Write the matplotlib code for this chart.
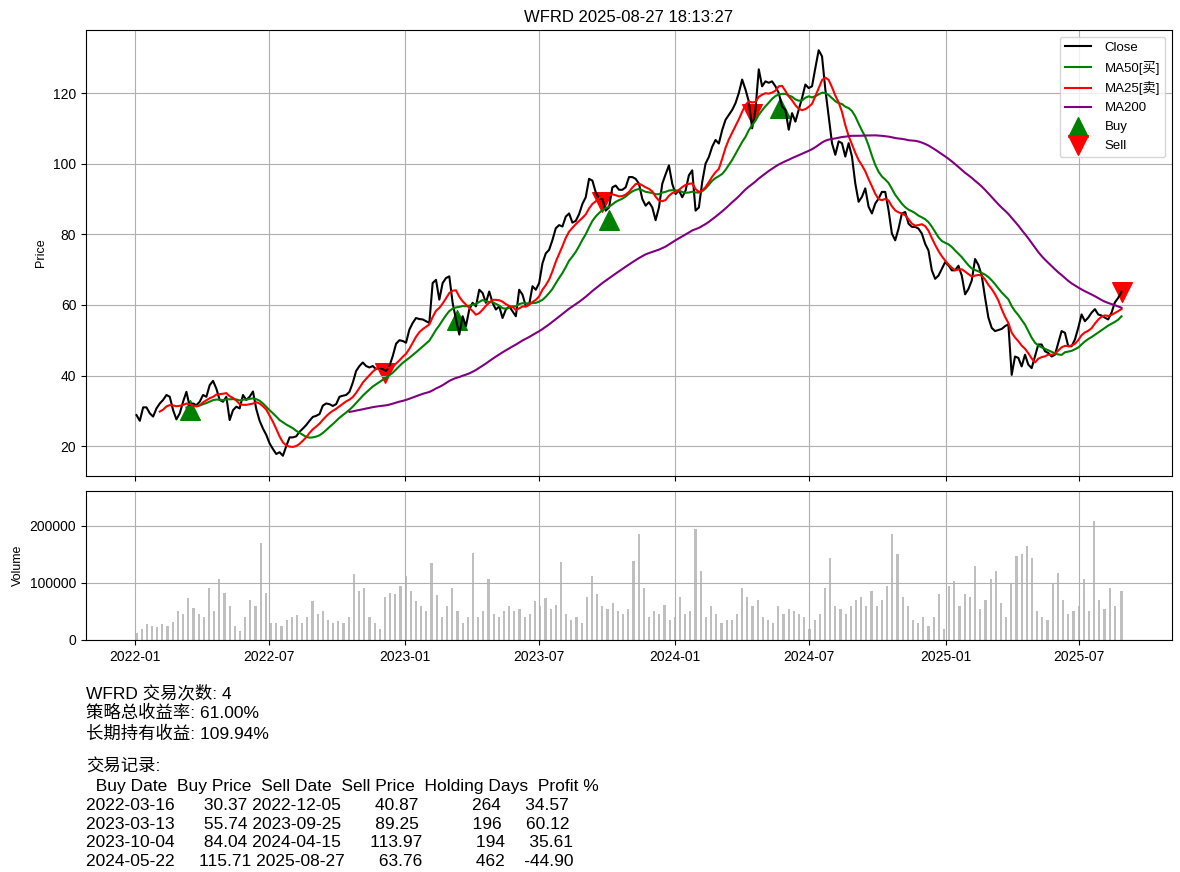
import numpy as np
import pandas as pd
import matplotlib
matplotlib.use('Agg')
import matplotlib.pyplot as plt
import matplotlib.dates as mdates

plt.rcParams['font.family'] = ['Liberation Sans', 'Noto Sans CJK SC']
plt.rcParams['axes.unicode_minus'] = False

ticker = 'WFRD'
stamp = '2025-08-27 18:13:27'

close = [
    28.8, 27.2, 31.0, 31.0, 29.3, 28.4, 30.7, 32.1, 33.1, 34.5,
    34.0, 30.2, 27.6, 29.3, 32.6, 35.4, 31.2, 32.1, 31.6, 32.6,
    34.5, 34.0, 37.3, 38.5, 36.3, 33.1, 32.6, 34.0, 27.4, 30.2,
    31.2, 30.7, 34.5, 33.1, 34.0, 35.5, 30.5, 27.2, 25.0, 23.2,
    20.8, 19.2, 17.8, 18.3, 17.3, 20.0, 22.5, 22.5, 22.8, 24.1,
    25.0, 26.0, 27.2, 28.3, 28.6, 29.1, 31.5, 32.1, 31.9, 31.4,
    31.9, 34.0, 34.3, 34.5, 35.4, 38.0, 41.3, 42.7, 43.7, 42.7,
    42.3, 42.7, 41.8, 42.3, 41.8, 41.3, 42.7, 45.5, 49.0, 50.0,
    49.8, 49.3, 53.0, 54.9, 56.3, 56.0, 55.9, 55.4, 54.9, 66.2,
    67.1, 61.5, 66.2, 67.6, 68.1, 60.6, 55.9, 51.6, 56.8, 54.0,
    58.7, 60.6, 59.6, 64.3, 63.4, 60.6, 63.8, 60.6, 58.7, 59.6,
    56.3, 58.7, 59.6, 58.2, 56.8, 64.3, 62.9, 59.6, 60.1, 65.3,
    64.3, 66.2, 71.8, 74.6, 75.6, 78.4, 81.7, 82.6, 82.2, 85.0,
    85.9, 83.3, 83.8, 85.7, 88.6, 90.5, 95.7, 95.2, 91.9, 90.0,
    90.0, 86.7, 87.6, 93.3, 93.8, 92.6, 92.6, 93.3, 96.2, 96.2,
    95.7, 94.3, 90.0, 88.1, 89.1, 87.6, 84.0, 87.6, 94.3, 97.0,
    99.5, 94.3, 91.4, 92.4, 90.5, 92.4, 96.7, 98.1, 86.7, 87.6,
    94.8, 100.0, 101.9, 104.8, 106.7, 105.7, 109.5, 112.4, 113.8, 115.2,
    117.1, 120.0, 123.8, 121.0, 117.6, 110.0, 115.2, 126.7, 121.9, 123.3,
    122.9, 123.3, 121.9, 120.0, 116.2, 115.2, 109.6, 114.3, 111.9, 115.3,
    118.6, 122.4, 121.4, 121.9, 127.1, 132.1, 130.4, 121.0, 113.4, 105.8,
    102.5, 106.3, 105.8, 102.0, 105.8, 102.0, 94.4, 89.2, 90.6, 93.0,
    87.8, 85.9, 88.7, 90.1, 92.0, 92.0, 86.8, 80.2, 78.3, 81.6,
    85.9, 86.3, 83.0, 82.1, 82.1, 81.6, 80.2, 77.3, 75.4, 69.8,
    67.4, 68.3, 70.2, 72.1, 71.2, 69.8, 69.8, 71.1, 68.3, 63.0,
    64.5, 66.9, 73.0, 71.3, 68.3, 62.1, 56.4, 53.5, 52.6, 52.9,
    53.2, 54.0, 54.5, 40.2, 45.4, 45.0, 42.6, 45.9, 43.1, 42.1,
    45.4, 48.8, 48.8, 46.9, 46.4, 45.4, 45.9, 49.2, 52.6, 52.1,
    48.3, 48.3, 50.2, 53.5, 57.3, 55.4, 56.4, 57.8, 58.8, 57.3,
    57.0, 56.4, 55.9, 57.8, 60.7, 62.0, 63.76,
]
close_dates = pd.date_range('2022-01-03', '2025-08-27', periods=len(close))

# volume in thousands of shares, one bar per week plus the last day
volume_k = [
    12, 20, 28, 25, 22, 28, 25, 32, 51, 45,
    73, 56, 45, 40, 91, 50, 106, 82, 60, 25,
    15, 40, 70, 60, 169, 82, 30, 30, 25, 35,
    40, 44, 30, 40, 68, 45, 50, 35, 30, 34,
    30, 40, 115, 85, 91, 40, 30, 20, 76, 82,
    80, 94, 112, 85, 68, 60, 50, 135, 79, 40,
    60, 91, 50, 30, 40, 153, 40, 50, 106, 45,
    40, 50, 59, 50, 55, 40, 45, 68, 60, 73,
    55, 62, 137, 45, 35, 40, 30, 76, 112, 80,
    60, 55, 65, 50, 45, 55, 139, 185, 91, 40,
    50, 45, 62, 35, 40, 76, 45, 50, 194, 120,
    40, 60, 45, 30, 35, 35, 45, 91, 75, 60,
    70, 40, 35, 30, 60, 45, 55, 50, 45, 40,
    20, 35, 45, 91, 144, 60, 55, 45, 60, 70,
    75, 60, 85, 60, 70, 95, 185, 150, 75, 60,
    35, 30, 40, 25, 40, 80, 20, 94, 103, 60,
    80, 75, 129, 55, 70, 106, 120, 65, 40, 100,
    147, 150, 165, 144, 50, 40, 35, 100, 118, 70,
    45, 50, 60, 106, 50, 209, 70, 55, 91, 60,
    85,
]
vol_dates = pd.date_range('2022-01-03', periods=190, freq='7D').append(pd.DatetimeIndex(['2025-08-27']))

buy_dates = ['2022-03-16', '2023-03-13', '2023-10-04', '2024-05-22']
buy_prices = [30.37, 55.74, 84.04, 115.71]
sell_dates = ['2022-12-05', '2023-09-25', '2024-04-15', '2025-08-27']
sell_prices = [40.87, 89.25, 113.97, 63.76]
holding_days = [264, 196, 194, 462]
profit_pct = [34.57, 60.12, 35.61, -44.90]

n_trades = 4
strategy_return = 61.00
hold_return = 109.94

df = pd.DataFrame({'Close': close}, index=close_dates)
# rows are ~4.5 calendar days apart: 8 / 16 / 65 rows ~ 25 / 50 / 200 trading days
df['MA25'] = df['Close'].rolling(8).mean()
df['MA50'] = df['Close'].rolling(16).mean()
df['MA200'] = df['Close'].rolling(65).mean()

fig = plt.figure(figsize=(11.8, 8.72), dpi=100)
ax1 = fig.add_axes([0.0729, 0.4541, 0.9203, 0.5115])
ax2 = fig.add_axes([0.0729, 0.2661, 0.9203, 0.1709], sharex=ax1)

ax1.plot(df.index, df['Close'], color='black', label='Close')
ax1.plot(df.index, df['MA50'], color='green', label='MA50[买]')
ax1.plot(df.index, df['MA25'], color='red', label='MA25[卖]')
ax1.plot(df.index, df['MA200'], color='purple', label='MA200')
ax1.scatter(pd.to_datetime(buy_dates), buy_prices, marker='^', color='green', s=200, label='Buy')
ax1.scatter(pd.to_datetime(sell_dates), sell_prices, marker='v', color='red', s=200, label='Sell')
ax1.set_title(f'{ticker} {stamp}')
ax1.set_ylabel('Price', fontsize=9)
ax1.legend(loc='upper right', fontsize=9.5, handletextpad=1.0)
ax1.grid(True)
ax1.tick_params(labelbottom=False)

ax2.bar(vol_dates, np.array(volume_k) * 1000, width=3, color='gray', alpha=0.5)
ax2.set_ylabel('Volume', fontsize=9)
ax2.set_ylim(0, 261000)
ax2.grid(True)
ax2.xaxis.set_major_locator(mdates.MonthLocator(bymonth=[1, 7]))
ax2.xaxis.set_major_formatter(mdates.DateFormatter('%Y-%m'))

trades = pd.DataFrame({
    'Buy Date': buy_dates,
    'Buy Price': buy_prices,
    'Sell Date': sell_dates,
    'Sell Price': sell_prices,
    'Holding Days': holding_days,
    'Profit %': profit_pct,
})
summary = (f"{ticker} 交易次数: {n_trades}\n"
           f"策略总收益率: {strategy_return:.2f}%\n"
           f"长期持有收益: {hold_return:.2f}%")
record = f"交易记录:\n{trades.to_string(index=False)}"
fig.text(0.0729, 0.2156, summary, fontsize=12.5, va='top', ha='left', linespacing=1.31)
fig.text(0.0729, 0.1296, record, fontsize=12.5, va='top', ha='left', linespacing=1.32)

fig.savefig('out.png', dpi=100)
